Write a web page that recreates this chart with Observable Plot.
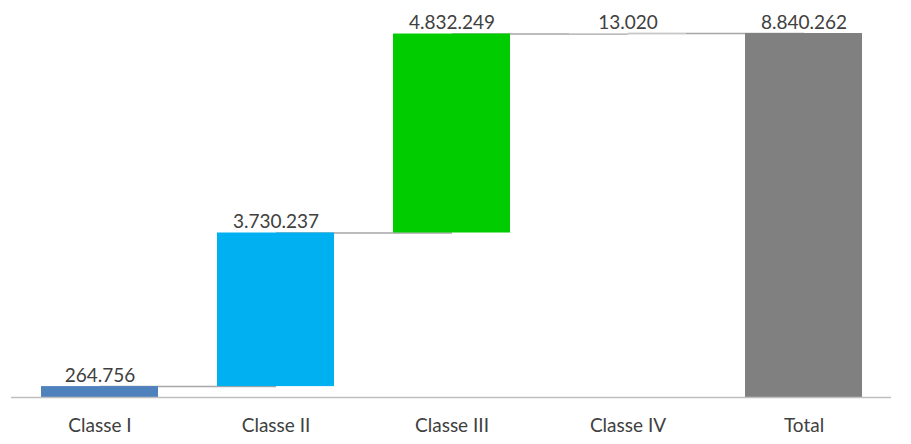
<!DOCTYPE html>
<html>
<head>
<meta charset="utf-8">
<script src="https://cdn.jsdelivr.net/npm/d3@7"></script>
<script src="https://cdn.jsdelivr.net/npm/@observablehq/plot@0.6"></script>
<style>
  html, body { margin: 0; padding: 0; background: #fff; }
</style>
</head>
<body>
<div id="chart"></div>
<script>
const categories = ["Classe I", "Classe II", "Classe III", "Classe IV", "Total"];
const values = [264756, 3730237, 4832249, 13020];
const colors = ["#4F81BD", "#00B0F0", "#00CC00", "#E3E3E3", "#808080"];

const fmt = d3.formatLocale({decimal: ",", thousands: ".", grouping: [3], currency: ["", ""]}).format(",");

const total = d3.sum(values);
const rows = [];
let cum = 0;
values.forEach((v, i) => {
  rows.push({cat: categories[i], start: cum, end: cum + v, value: v, color: colors[i]});
  cum += v;
});
rows.push({cat: categories[4], start: 0, end: total, value: total, color: colors[4]});

const links = rows.slice(0, -1).map((r, i) => ({from: r.cat, to: rows[i + 1].cat, y: r.end}));

const chart = Plot.plot({
  width: 911,
  height: 444,
  marginLeft: 11,
  marginRight: 20,
  marginTop: 33,
  marginBottom: 47,
  style: {fontFamily: "Lato, 'Open Sans', sans-serif", fontSize: "19px", color: "#404040", background: "#fff"},
  x: {domain: categories, paddingInner: 0.336, paddingOuter: 0.1645, axis: null},
  y: {domain: [0, total], axis: null},
  marks: [
    Plot.link(links, {x1: "from", x2: "to", y1: "y", y2: "y", stroke: "#A6A6A6", strokeWidth: 1.5}),
    Plot.barY(rows, {x: "cat", y1: "start", y2: "end", fill: "color", inset: 0}),
    Plot.ruleY([0], {stroke: "#BFBFBF", strokeWidth: 1.5}),
    Plot.text(rows, {x: "cat", y: "end", text: d => fmt(d.value), lineAnchor: "bottom", dy: -5, fill: "#404040", fontSize: 19}),
    Plot.axisX({tickSize: 0, tickPadding: 21, label: null, fontSize: 19, fill: "#404040"})
  ]
});
document.getElementById("chart").appendChild(chart);
</script>
</body>
</html>
